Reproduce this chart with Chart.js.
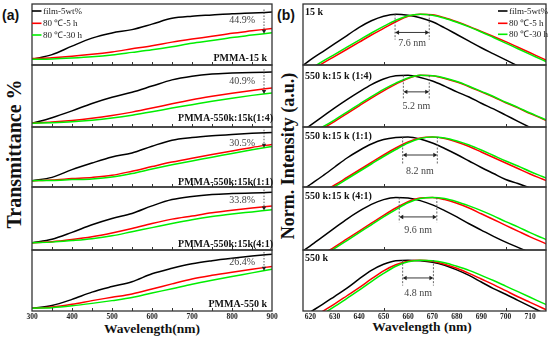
<!DOCTYPE html>
<html>
<head>
<meta charset="utf-8">
<script src="https://cdn.jsdelivr.net/npm/chart.js@4.4.0/dist/chart.umd.min.js"></script>
<style>
  html, body { margin: 0; padding: 0; background: #fff; }
  #fig { position: relative; width: 550px; height: 337px; overflow: hidden; }
  #fig canvas { position: absolute; }
  .t { position: absolute; white-space: nowrap; line-height: 1; color: #111; }
  .c { transform: translate(-50%, -50%); }
  .rot { transform: translate(-50%, -50%) rotate(-90deg); }
  .serif { font-family: "Liberation Serif", "Times New Roman", serif; font-weight: bold; }
  .sans { font-family: "Liberation Sans", Arial, sans-serif; font-weight: bold; }
</style>
</head>
<body>
<div id="fig">
  <div class="t sans" style="left:2px;top:8px;font-size:14px;">(a)</div>
  <div class="t sans" style="left:277px;top:8px;font-size:14px;">(b)</div>
  <div class="t serif rot" style="left:14px;top:154px;font-size:20px;">Transmittance %</div>
  <div class="t serif rot" style="left:288px;top:156px;font-size:18px;">Norm. Intensity (a.u.)</div>
  <div class="t serif c" style="left:152px;top:329px;font-size:13.5px;">Wavelength(nm)</div>
  <div class="t serif c" style="left:422px;top:327px;font-size:13.5px;">Wavelength (nm)</div>
</div>
<script>
// ---- data ----
const seriesNames = ['film-5wt%', '80 \u2103-5 h', '80 \u2103-30 h'];

// (a) transmittance, wavelength 300-900 nm (relative panel units 0-100)
const wlA = [300, 350, 400, 450, 500, 550, 600, 650, 700, 750, 800, 850, 900];
const tickLabelsA = [300, 400, 500, 600, 700, 800, 900];
const minorA = [350, 400, 450, 500, 550, 600, 650, 700, 750, 800, 850];
const panelNamesA = ['PMMA-15 k', 'PMMA-550k:15k(1:4)', 'PMMA-550k:15k(1:1)', 'PMMA-550k:15k(4:1)', 'PMMA-550 k'];
const dropLabelsA = ['44.9%', '40.9%', '30.5%', '33.8%', '26.4%'];
const dropAtA = 880;

const a1Film  = [9.3, 17, 31, 44, 52.5, 58, 67, 76.5, 80, 82, 84, 85.3, 86.7];
const a1Short = [10.5, 12, 14.3, 17.5, 21.5, 26.5, 31.5, 37.5, 42.5, 47, 52, 56, 60];
const a1Long  = [9.3, 10, 11.5, 13.5, 16.5, 20.7, 25, 30, 35.5, 40, 45, 49, 53];

const a2Film  = [6, 15, 26, 38, 48, 56, 66, 76, 82, 85.5, 87, 88, 88.7];
const a2Short = [6.5, 8, 10.5, 14, 18.5, 24, 30.5, 37.5, 44, 49.5, 54.5, 59, 63];
const a2Long  = [6, 7, 8.5, 11, 14.5, 19, 24.5, 30.5, 36, 41.5, 46.5, 51, 55];

const a3Film  = [10.5, 16, 29, 40, 50, 56.8, 68, 78, 82.5, 85.5, 87.7, 89.5, 91];
const a3Short = [10.5, 11.8, 14, 16, 19.5, 26.3, 34, 41.5, 48, 54, 60, 66, 71];
const a3Long  = [10.5, 11, 12.3, 13.5, 16.5, 22.5, 30, 37, 43.5, 49.5, 56, 62, 67.5];

const a4Film  = [11.5, 17, 28, 40, 50, 58, 70, 80, 85, 88, 89.5, 90.5, 91.5];
const a4Short = [11.5, 13, 16.5, 21, 27, 34, 42, 49, 54, 59, 63, 66.5, 70];
const a4Long  = [11.5, 12.5, 15, 18, 22.5, 29, 35.5, 42, 48, 53, 57, 60.5, 64];

const a5Film  = [4.5, 9, 19, 31, 40, 48, 61, 70, 77.5, 82.5, 86.5, 90, 93];
const a5Short = [4.5, 6.5, 11, 17, 22.5, 28, 36, 44.5, 52.5, 58.5, 63.7, 68.5, 73];
const a5Long  = [4.5, 5.5, 8.5, 12.5, 17, 22, 29.5, 36.5, 44, 50.5, 56.5, 62.5, 68.5];

// drop-label heights (panel units)
const dropTextA = [72.6, 73, 72.8, 78, 79];

// (b) normalised PL, wavelength 615-720 nm (peak = 1)
const wlB = [615, 620, 625, 630, 635, 640, 645, 650, 655, 660, 665, 670, 675, 680, 685, 690, 695, 700, 705, 710, 715, 720];
const tickLabelsB = [620, 630, 640, 650, 660, 670, 680, 690, 700, 710];
const minorB = [650, 700];
const panelNamesB = ['15 k', '550 k:15 k (1:4)', '550 k:15 k (1:1)', '550 k:15 k (4:1)', '550 k'];
const shiftLabelsB = ['7.6 nm', '5.2 nm', '8.2 nm', '9.6 nm', '4.8 nm'];
const peaksB = [[654.7, 668.7], [658.1, 668.7], [657.8, 672], [656.4, 671.8], [657.8, 670.4]];

const b1Film  = [-0.08, 0.10, 0.26, 0.42, 0.58, 0.74, 0.87, 0.96, 1.00, 0.98, 0.93, 0.85, 0.73, 0.60, 0.47, 0.34, 0.22, 0.10, -0.02, -0.14, -0.26, -0.38];
const b1Short = [-0.26, -0.12, 0.03, 0.17, 0.31, 0.45, 0.59, 0.72, 0.85, 0.96, 1.00, 0.99, 0.93, 0.85, 0.76, 0.66, 0.56, 0.46, 0.35, 0.24, 0.13, 0.02];
const b1Long  = [-0.22, -0.08, 0.07, 0.21, 0.35, 0.49, 0.63, 0.76, 0.88, 0.97, 1.00, 0.98, 0.92, 0.84, 0.75, 0.65, 0.54, 0.43, 0.32, 0.21, 0.10, -0.01];

const b2Film  = [-0.14, 0.03, 0.20, 0.37, 0.53, 0.68, 0.82, 0.93, 0.99, 1.00, 0.96, 0.89, 0.79, 0.68, 0.58, 0.46, 0.35, 0.23, 0.11, -0.01, -0.13, -0.25];
const b2Short = [-0.30, -0.16, -0.03, 0.11, 0.26, 0.41, 0.56, 0.70, 0.83, 0.94, 1.00, 0.99, 0.94, 0.87, 0.78, 0.68, 0.58, 0.47, 0.37, 0.26, 0.16, 0.05];
const b2Long  = [-0.27, -0.13, 0.00, 0.14, 0.29, 0.44, 0.59, 0.73, 0.85, 0.95, 1.00, 0.99, 0.95, 0.88, 0.79, 0.69, 0.59, 0.48, 0.38, 0.27, 0.17, 0.06];

const b3Film  = [-0.12, 0.05, 0.22, 0.40, 0.58, 0.73, 0.86, 0.95, 0.99, 1.00, 0.96, 0.88, 0.77, 0.65, 0.52, 0.39, 0.27, 0.15, 0.07, -0.02, -0.11, -0.20];
const b3Short = [-0.38, -0.24, -0.10, 0.04, 0.19, 0.34, 0.49, 0.64, 0.78, 0.90, 0.98, 1.00, 0.97, 0.90, 0.81, 0.70, 0.59, 0.48, 0.37, 0.26, 0.16, 0.06];
const b3Long  = [-0.41, -0.27, -0.13, 0.01, 0.16, 0.31, 0.46, 0.61, 0.75, 0.88, 0.97, 1.00, 0.98, 0.92, 0.84, 0.74, 0.63, 0.52, 0.42, 0.31, 0.21, 0.11];

const b4Film  = [-0.08, 0.08, 0.25, 0.42, 0.59, 0.74, 0.87, 0.96, 1.00, 0.99, 0.94, 0.86, 0.75, 0.63, 0.50, 0.38, 0.26, 0.15, 0.05, -0.05, -0.15, -0.25];
const b4Short = [-0.36, -0.22, -0.08, 0.06, 0.21, 0.36, 0.51, 0.66, 0.80, 0.92, 0.99, 1.00, 0.96, 0.89, 0.80, 0.69, 0.58, 0.47, 0.36, 0.25, 0.15, 0.05];
const b4Long  = [-0.39, -0.25, -0.11, 0.03, 0.18, 0.33, 0.48, 0.63, 0.77, 0.90, 0.98, 1.00, 0.98, 0.92, 0.84, 0.75, 0.65, 0.54, 0.44, 0.33, 0.23, 0.13];

const b5Film  = [-0.17, -0.02, 0.13, 0.29, 0.45, 0.63, 0.80, 0.92, 0.99, 1.00, 0.99, 0.96, 0.90, 0.81, 0.70, 0.57, 0.44, 0.33, 0.21, 0.09, -0.03, -0.15];
const b5Short = [-0.31, -0.16, -0.01, 0.14, 0.30, 0.46, 0.63, 0.79, 0.91, 0.98, 1.00, 0.98, 0.92, 0.84, 0.74, 0.63, 0.52, 0.40, 0.28, 0.17, 0.06, -0.05];
const b5Long  = [-0.36, -0.21, -0.06, 0.09, 0.25, 0.41, 0.58, 0.74, 0.88, 0.97, 1.00, 0.99, 0.95, 0.88, 0.80, 0.70, 0.60, 0.49, 0.38, 0.27, 0.16, 0.05];

// annotation heights in (b) (normalised units)
const arrowYB = [0.64, 0.68, 0.64, 0.63, 0.65];
const dashLowB = [0.50, 0.55, 0.44, 0.53, 0.50];
const shiftTextYB = [0.42, 0.39, 0.31, 0.38, 0.35];

// ---- layout ----
const rows = [4, 65, 127, 187, 250, 310];
const colA = { left: 32, right: 272 };
const colB = { left: 303, right: 546 };
const PADX = 14, PADY = 3, AXIS_H = 12;
const COLORS = ['#000000', '#ff0000', '#00ee00'];
const SERIF = '"Liberation Serif", "Times New Roman", serif';

const panelsA = [
  [a1Film, a1Short, a1Long], [a2Film, a2Short, a2Long], [a3Film, a3Short, a3Long],
  [a4Film, a4Short, a4Long], [a5Film, a5Short, a5Long]
];
const panelsB = [
  [b1Film, b1Short, b1Long], [b2Film, b2Short, b2Long], [b3Film, b3Short, b3Long],
  [b4Film, b4Short, b4Long], [b5Film, b5Short, b5Long]
];
const labelDyA = [4, 6.5, 2.5, 3.5, 4.5];
const labelDxA = [5, -1, -1, -1, 5];
const labelDyB = [11, 13.5, 11.5, 11.5, 11];

function valueAt(xs, ys, v) {
  for (let i = 0; i < xs.length - 1; i++) {
    if (v >= xs[i] && v <= xs[i + 1]) {
      const f = (v - xs[i]) / (xs[i + 1] - xs[i]);
      return ys[i] + f * (ys[i + 1] - ys[i]);
    }
  }
  return ys[ys.length - 1];
}

function arrowHead(ctx, x, y, dx, dy) {
  // tip at (x,y), pointing along (dx,dy)
  const len = 4, half = 2.2;
  const px = -dy, py = dx;
  ctx.beginPath();
  ctx.moveTo(x, y);
  ctx.lineTo(x - dx * len + px * half, y - dy * len + py * half);
  ctx.lineTo(x - dx * len - px * half, y - dy * len - py * half);
  ctx.closePath();
  ctx.fill();
}

// frame, inward ticks, legend, labels and arrows for one panel
function decor(side, row) {
  return {
    id: 'decor',
    afterDatasetsDraw(chart) {
      const { ctx, chartArea: a, scales: { x, y } } = chart;
      ctx.save();
      ctx.strokeStyle = '#333';
      ctx.lineWidth = 1.3;
      ctx.strokeRect(a.left, a.top, a.right - a.left, a.bottom - a.top);

      ctx.lineWidth = 1;
      ctx.beginPath();
      (side === 'a' ? minorA : minorB).forEach(v => {
        const px = Math.round(x.getPixelForValue(v)) + 0.5;
        ctx.moveTo(px, a.bottom);
        ctx.lineTo(px, a.bottom - 3);
      });
      ctx.stroke();

      // legend in the top panel
      if (row === 0) {
        ctx.font = '9px ' + SERIF;
        ctx.textBaseline = 'middle';
        ctx.textAlign = 'left';
        const ys = side === 'a' ? [7, 19.3, 31] : [7, 19.3, 30.3];
        const x0 = side === 'a' ? a.left : a.right - 48;
        seriesNames.forEach((name, i) => {
          ctx.strokeStyle = COLORS[i];
          ctx.lineWidth = 1.6;
          ctx.beginPath();
          ctx.moveTo(x0, a.top + ys[i]);
          ctx.lineTo(x0 + 9.5, a.top + ys[i]);
          ctx.stroke();
          ctx.fillStyle = '#222';
          ctx.fillText(name, x0 + 11, a.top + ys[i] + 0.5);
        });
      }

      ctx.fillStyle = '#111';
      ctx.font = 'bold 10px ' + SERIF;
      ctx.textBaseline = 'alphabetic';
      if (side === 'a') {
        ctx.textAlign = 'right';
        ctx.fillText(panelNamesA[row], a.right - labelDxA[row], a.bottom - labelDyA[row]);

        const [film, , long] = panelsA[row];
        const xp = x.getPixelForValue(dropAtA);
        const yTop = y.getPixelForValue(valueAt(wlA, film, dropAtA)) - 3;
        const yBot = y.getPixelForValue(valueAt(wlA, long, dropAtA));
        ctx.strokeStyle = '#444';
        ctx.fillStyle = '#222';
        ctx.lineWidth = 0.9;
        ctx.setLineDash([1.5, 1.5]);
        ctx.beginPath();
        ctx.moveTo(xp, yTop);
        ctx.lineTo(xp, yBot - 3);
        ctx.stroke();
        ctx.setLineDash([]);
        arrowHead(ctx, xp, yBot, 0, 1);

        ctx.font = '10px ' + SERIF;
        ctx.fillStyle = '#444';
        ctx.textAlign = 'right';
        ctx.textBaseline = 'middle';
        ctx.fillText(dropLabelsA[row], x.getPixelForValue(857.5), y.getPixelForValue(dropTextA[row]));
      } else {
        ctx.textAlign = 'left';
        ctx.fillText(panelNamesB[row], a.left + 2, a.top + labelDyB[row]);

        const [p1, p2] = peaksB[row];
        const x1 = x.getPixelForValue(p1), x2 = x.getPixelForValue(p2);
        const yTop = y.getPixelForValue(1.0), yLow = y.getPixelForValue(dashLowB[row]);
        ctx.strokeStyle = '#555';
        ctx.lineWidth = 0.9;
        ctx.setLineDash([2, 1.5]);
        ctx.beginPath();
        ctx.moveTo(x1, yTop); ctx.lineTo(x1, yLow);
        ctx.moveTo(x2, yTop); ctx.lineTo(x2, yLow);
        ctx.stroke();
        ctx.setLineDash([]);
        const ya = y.getPixelForValue(arrowYB[row]);
        ctx.strokeStyle = '#222';
        ctx.fillStyle = '#222';
        ctx.beginPath();
        ctx.moveTo(x1 + 2, ya); ctx.lineTo(x2 - 2, ya);
        ctx.stroke();
        arrowHead(ctx, x1, ya, -1, 0);
        arrowHead(ctx, x2, ya, 1, 0);

        ctx.font = '10px ' + SERIF;
        ctx.fillStyle = '#444';
        ctx.textAlign = 'center';
        ctx.textBaseline = 'middle';
        ctx.fillText(shiftLabelsB[row], (x1 + x2) / 2, y.getPixelForValue(shiftTextYB[row]));
      }
      ctx.restore();
    }
  };
}

function makePanel(side, row) {
  const col = side === 'a' ? colA : colB;
  const xs = side === 'a' ? wlA : wlB;
  const series = side === 'a' ? panelsA[row] : panelsB[row];
  const last = row === 4;
  const top = rows[row], h = rows[row + 1] - rows[row];

  const canvas = document.createElement('canvas');
  const w = col.right - col.left + 2 * PADX;
  const ch = h + 2 * PADY + (last ? AXIS_H : 0);
  canvas.width = w; canvas.height = ch;
  canvas.style.left = (col.left - PADX) + 'px';
  canvas.style.top = (top - PADY) + 'px';
  canvas.style.width = w + 'px';
  canvas.style.height = ch + 'px';
  document.getElementById('fig').appendChild(canvas);

  const datasets = series.map((ys, i) => ({
    label: seriesNames[i],
    data: xs.map((v, j) => ({ x: v, y: ys[j] })),
    borderColor: COLORS[i],
    borderWidth: 1.5,
    pointRadius: 0,
    fill: false,
    clip: 0,
    cubicInterpolationMode: 'monotone',
    order: 3 - i
  }));

  new Chart(canvas.getContext('2d'), {
    type: 'line',
    data: { datasets },
    options: {
      responsive: false,
      animation: false,
      events: [],
      devicePixelRatio: 1,
      layout: { padding: { left: PADX, right: PADX, top: PADY, bottom: last ? PADY - 2 : PADY } },
      scales: {
        x: {
          type: 'linear',
          min: side === 'a' ? 300 : 617,
          max: side === 'a' ? 900 : 716.5,
          display: last,
          grid: { display: false, drawTicks: false },
          border: { display: false },
          afterBuildTicks: s => { s.ticks = (side === 'a' ? tickLabelsA : tickLabelsB).map(v => ({ value: v })); },
          ticks: {
            autoSkip: false, maxRotation: 0, padding: 2, color: '#222',
            font: { family: SERIF, weight: 'bold', size: 7.5 }
          }
        },
        y: { min: 0, max: side === 'a' ? 100 : 1.2, display: false }
      },
      plugins: { legend: { display: false }, tooltip: { enabled: false } }
    },
    plugins: [decor(side, row)]
  });
}

for (let r = 0; r < 5; r++) {
  makePanel('a', r);
  makePanel('b', r);
}
</script>
</body>
</html>
